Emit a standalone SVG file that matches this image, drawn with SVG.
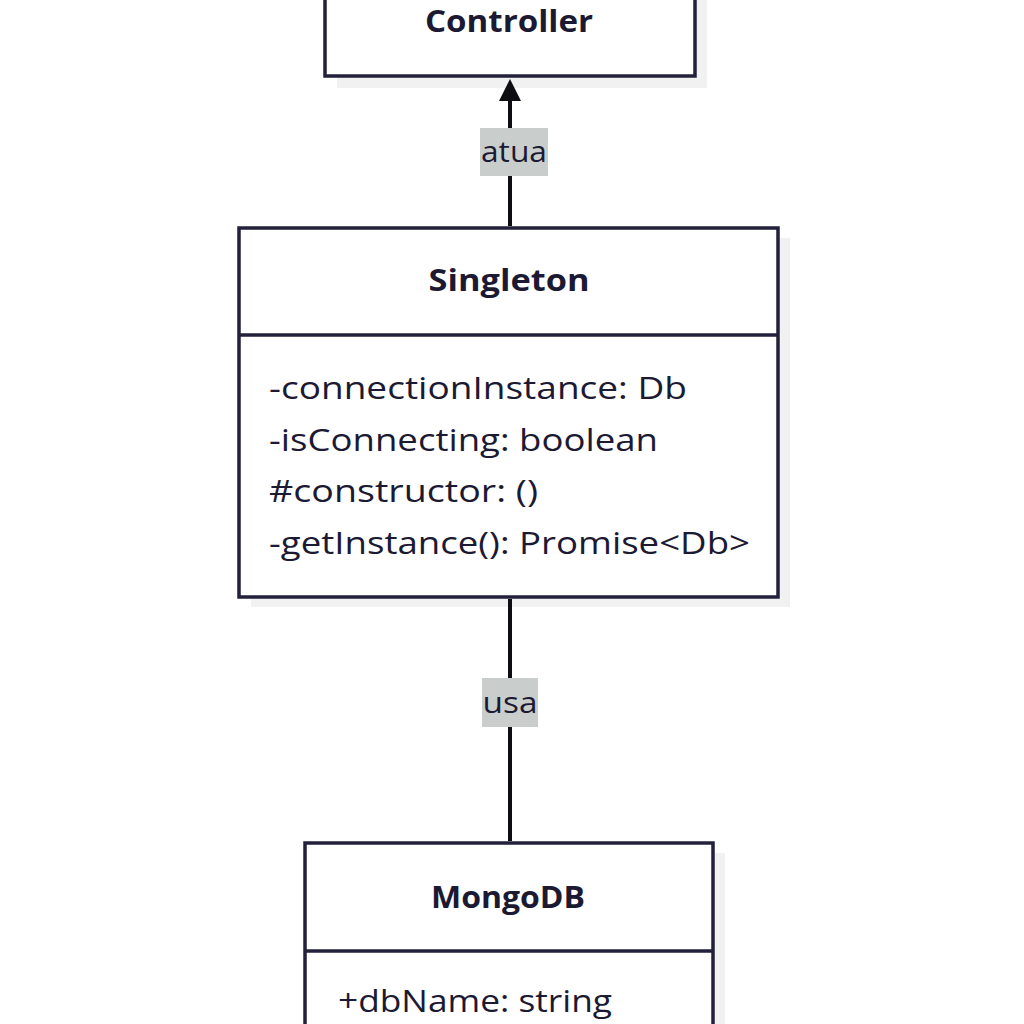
<svg xmlns="http://www.w3.org/2000/svg" width="1024" height="1024" viewBox="0 0 1024 1024">
<defs>
<style>
.shadow{fill:#f1f1f1;}
.box{fill:#ffffff;stroke:#22203a;stroke-width:3.5;}
.div{stroke:#22203a;stroke-width:3.5;}
.title{font-family:"Open Sans","Noto Sans","DejaVu Sans",sans-serif;font-weight:bold;font-size:30px;fill:#1c1a33;text-anchor:middle;}
.attr{font-family:"Open Sans","Noto Sans","DejaVu Sans",sans-serif;font-size:31px;fill:#1c1a33;}
.edge{stroke:#0d0d12;stroke-width:4;fill:none;}
.lblbg{fill:#c9cdcc;}
.lbl{font-family:"Open Sans","Noto Sans","DejaVu Sans",sans-serif;font-size:30px;fill:#1c1a33;text-anchor:middle;}
</style>
</defs>
<rect width="1024" height="1024" fill="#ffffff"/>
<g id="controller">
<rect class="shadow" x="337" y="-10" width="370" height="98"/>
<rect class="box" x="325" y="-20" width="370" height="96"/>
<text class="title" x="509" y="32" textLength="168" lengthAdjust="spacingAndGlyphs">Controller</text>
</g>
<g id="singleton">
<rect class="shadow" x="251" y="238" width="539" height="369"/>
<rect class="box" x="239" y="228" width="539" height="369"/>
<line class="div" x1="239" y1="335" x2="778" y2="335"/>
<text class="title" x="509" y="291" textLength="161" lengthAdjust="spacingAndGlyphs">Singleton</text>
<text class="attr" x="269" y="399" textLength="418" lengthAdjust="spacingAndGlyphs">-connectionInstance: Db</text>
<text class="attr" x="269" y="451" textLength="389" lengthAdjust="spacingAndGlyphs">-isConnecting: boolean</text>
<text class="attr" x="269" y="502" textLength="269" lengthAdjust="spacingAndGlyphs">#constructor: ()</text>
<text class="attr" x="269" y="554" textLength="481" lengthAdjust="spacingAndGlyphs">-getInstance(): Promise&lt;Db&gt;</text>
</g>
<g id="mongodb">
<rect class="shadow" x="317" y="853" width="408" height="200"/>
<rect class="box" x="305" y="843" width="408" height="200"/>
<line class="div" x1="305" y1="951" x2="713" y2="951"/>
<text class="title" x="508" y="908" textLength="154" lengthAdjust="spacingAndGlyphs">MongoDB</text>
<text class="attr" x="338" y="1012" textLength="274" lengthAdjust="spacingAndGlyphs">+dbName: string</text>
</g>
<g id="connectors">
<line class="edge" x1="510" y1="226" x2="510" y2="100"/>
<path d="M499,101 L510,79 L521,101 Z" fill="#0d0d12"/>
<rect class="lblbg" x="480" y="128" width="68" height="48"/>
<text class="lbl" x="514" y="162" textLength="66" lengthAdjust="spacingAndGlyphs">atua</text>
<line class="edge" x1="510" y1="599" x2="510" y2="841"/>
<rect class="lblbg" x="482" y="678" width="56" height="49"/>
<text class="lbl" x="510" y="713" textLength="55" lengthAdjust="spacingAndGlyphs">usa</text>
</g>
</svg>
